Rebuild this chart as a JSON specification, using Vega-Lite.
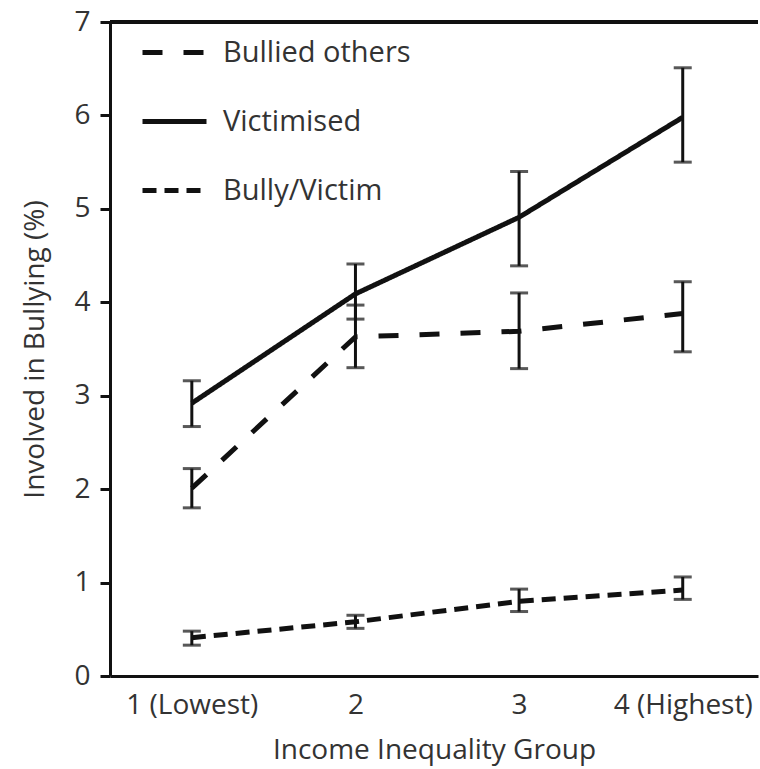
{
  "$schema": "https://vega.github.io/schema/vega-lite/v6.json",
  "width": 648,
  "height": 654,
  "autosize": "none",
  "padding": {"left": 110, "top": 22, "right": 2, "bottom": 93},
  "background": "white",
  "config": {
    "view": {"stroke": null},
    "font": "Open Sans",
    "axis": {"grid": false, "domainColor": "#111", "domainWidth": 3, "tickColor": "#111", "tickWidth": 3, "labelColor": "#333", "titleColor": "#333", "labelFont": "Open Sans", "titleFont": "Open Sans", "labelFontWeight": "normal", "titleFontWeight": "normal", "labelFontSize": 28, "titleFontSize": 28},
    "axisX": {"ticks": false, "labelPadding": 15, "titlePadding": 17},
    "axisY": {"tickSize": 10, "labelPadding": 10, "titlePadding": 24},
    "legend": {"labelFont": "Open Sans", "labelColor": "#333"}
  },
  "data": {
    "values": [
      {"group": 1, "series": "Bullied others", "value": 2.01, "lo": 1.8, "hi": 2.22},
      {"group": 2, "series": "Bullied others", "value": 3.63, "lo": 3.3, "hi": 3.97},
      {"group": 3, "series": "Bullied others", "value": 3.69, "lo": 3.29, "hi": 4.1},
      {"group": 4, "series": "Bullied others", "value": 3.88, "lo": 3.47, "hi": 4.22},
      {"group": 1, "series": "Victimised", "value": 2.92, "lo": 2.67, "hi": 3.16},
      {"group": 2, "series": "Victimised", "value": 4.09, "lo": 3.82, "hi": 4.41},
      {"group": 3, "series": "Victimised", "value": 4.91, "lo": 4.39, "hi": 5.4},
      {"group": 4, "series": "Victimised", "value": 5.98, "lo": 5.5, "hi": 6.51},
      {"group": 1, "series": "Bully/Victim", "value": 0.41, "lo": 0.33, "hi": 0.48},
      {"group": 2, "series": "Bully/Victim", "value": 0.58, "lo": 0.51, "hi": 0.65},
      {"group": 3, "series": "Bully/Victim", "value": 0.8, "lo": 0.69, "hi": 0.93},
      {"group": 4, "series": "Bully/Victim", "value": 0.92, "lo": 0.82, "hi": 1.06}
    ]
  },
  "layer": [
    {
      "mark": {"type": "line", "color": "#111", "strokeWidth": 5},
      "encoding": {
        "x": {
          "field": "group", "type": "quantitative",
          "scale": {"domain": [0.5, 4.46], "nice": false, "zero": false},
          "axis": {"values": [1, 2, 3, 4], "title": "Income Inequality Group",
                   "labelExpr": "datum.value == 1 ? '1 (Lowest)' : datum.value == 4 ? '4 (Highest)' : datum.label"}
        },
        "y": {
          "field": "value", "type": "quantitative",
          "scale": {"domain": [0, 7], "nice": false},
          "axis": {"values": [0, 1, 2, 3, 4, 5, 6, 7], "format": "d", "title": "Involved in Bullying (%)"}
        },
        "strokeDash": {
          "field": "series", "type": "nominal",
          "scale": {"domain": ["Bullied others", "Victimised", "Bully/Victim"], "range": [[20, 21], [1, 0], [14, 8]]},
          "legend": {"title": null, "orient": "none", "legendX": 30, "legendY": -4, "symbolType": "stroke", "symbolSize": 4096, "symbolStrokeWidth": 5, "symbolStrokeColor": "#111", "labelFontSize": 29, "labelOffset": 14, "rowPadding": 19, "labelLimit": 500}
        }
      }
    },
    {
      "mark": {"type": "errorbar", "orient": "vertical", "color": "#111", "ticks": {"size": 18, "thickness": 3, "color": "#111"}, "rule": {"strokeWidth": 3, "color": "#111"}},
      "encoding": {
        "x": {"field": "group", "type": "quantitative",
              "axis": {"values": [1, 2, 3, 4], "title": "Income Inequality Group",
                       "labelExpr": "datum.value == 1 ? '1 (Lowest)' : datum.value == 4 ? '4 (Highest)' : datum.label"}},
        "y": {"field": "lo", "type": "quantitative",
              "axis": {"values": [0, 1, 2, 3, 4, 5, 6, 7], "format": "d", "title": "Involved in Bullying (%)"}},
        "y2": {"field": "hi"},
        "detail": {"field": "series"}
      }
    },
    {
      "mark": {"type": "rule", "color": "#111", "strokeWidth": 3},
      "encoding": {
        "y": {"datum": 7, "type": "quantitative",
              "axis": {"values": [0, 1, 2, 3, 4, 5, 6, 7], "format": "d", "title": "Involved in Bullying (%)"}}
      }
    }
  ]
}
